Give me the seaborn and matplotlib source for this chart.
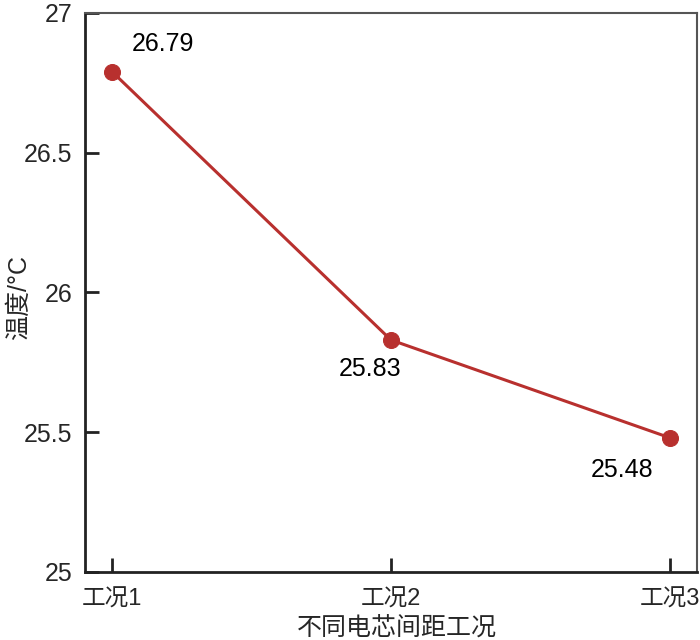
import numpy as np
import pandas as pd
import matplotlib
matplotlib.use("Agg")
import matplotlib.pyplot as plt
import seaborn as sns

# data
cases = ["工况1", "工况2", "工况3"]
temps = [26.79, 25.83, 25.48]
label_offsets = [(51, -28), (-21, 29), (-48, 32)]  # pixel offsets of the value labels

sns.set_style("ticks")
plt.rcParams['font.family'] = ['Liberation Sans', 'Noto Sans CJK SC', 'DejaVu Sans']
plt.rcParams['axes.unicode_minus'] = False

df = pd.DataFrame({"case": cases, "temp": temps, "pos": np.arange(len(cases))})

fig = plt.figure(figsize=(7, 6.4), dpi=100)
ax = fig.add_axes([0.1214, 0.1063, 0.8743, 0.8734])

red = "#b8302e"
sns.lineplot(data=df, x="pos", y="temp", ax=ax, color=red, linewidth=2.2,
             marker="o", markersize=11.5, markeredgecolor=red, markerfacecolor=red)

for x, y, (dx, dy) in zip(df["pos"], df["temp"], label_offsets):
    ax.annotate(f"{y:.2f}", (x, y), xytext=(dx * 0.72, -dy * 0.72),
                textcoords="offset points", ha="center", va="center",
                fontsize=18, color="black")

ax.set_xlim(-0.097, 2.097)
ax.set_ylim(25, 27)
ax.set_xticks(df["pos"])
ax.set_xticklabels(cases, fontsize=17)
ax.set_yticks([25, 25.5, 26, 26.5, 27])
ax.set_yticklabels(["25", "25.5", "26", "26.5", "27"], fontsize=18)

# axis titles placed where the reference has them
ax.set_xlabel("")
ax.set_ylabel("")
fig.text(397 / 700, 1 - 628 / 640, "不同电芯间距工况", fontsize=18, ha="center", va="center")
fig.text(19 / 700, 1 - 298 / 640, "温度/°C", fontsize=18, ha="center", va="center", rotation=90)

ax.tick_params(axis="both", direction="in", length=10, width=2, color="#222222")
ax.tick_params(axis="x", pad=12)
ax.tick_params(axis="y", pad=9)
ax.tick_params(top=False, right=False)

for side in ["left", "bottom"]:
    ax.spines[side].set_linewidth(2)
    ax.spines[side].set_color("#222222")
for side in ["top", "right"]:
    ax.spines[side].set_visible(True)
    ax.spines[side].set_linewidth(1.5)
    ax.spines[side].set_color("#555555")

fig.savefig("out.png", dpi=100)
